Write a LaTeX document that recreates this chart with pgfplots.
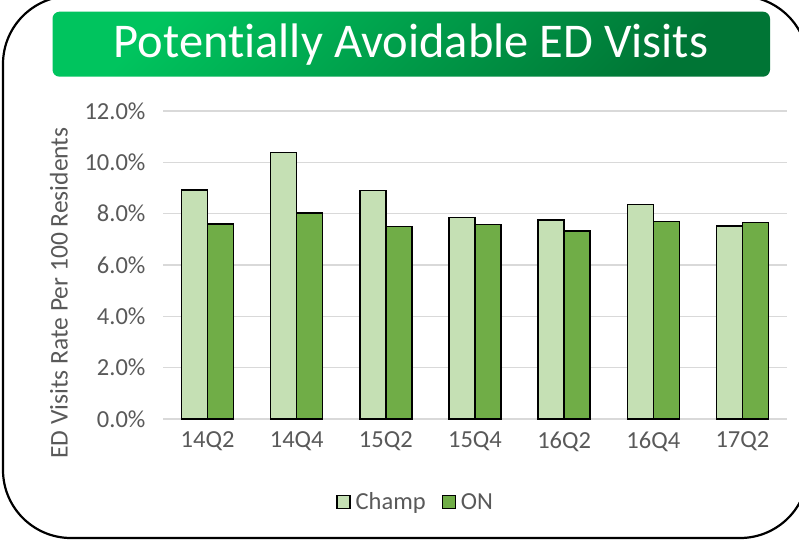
\documentclass[border=0pt]{standalone}
\usepackage{pgfplots}
\pgfplotsset{compat=1.18}
\usepackage{fontspec}
\setmainfont{Carlito}[Ligatures=NoCommon]
\definecolor{champ}{HTML}{C5E0B4}
\definecolor{on}{HTML}{70AD47}
\definecolor{txt}{HTML}{595959}
\definecolor{gridc}{HTML}{D9D9D9}
\definecolor{tA}{HTML}{00C45E}
\definecolor{tB}{HTML}{007535}
\pgfplotstableread{
x champ on
0 8.92 7.60
1 10.39 8.03
2 8.91 7.51
3 7.86 7.57
4 7.75 7.32
5 8.36 7.70
6 7.52 7.65
}\datatable
\begin{document}
\begin{tikzpicture}[x=1pt,y=1pt]
\useasboundingbox (0,0) rectangle (799,542);
\begin{scope}
\clip (0,0) rectangle (799,542);
\draw[line width=2.2pt, rounded corners=68pt] (3,4) rectangle (808,546);
\end{scope}
\shade[rounded corners=7pt, top color=tA, bottom color=tB, shading angle=45] (52.5,465.3) rectangle (770,530.3);
\node[text=white, font=\fontsize{48.5}{52}\selectfont] at (411,497.8) {Potentially Avoidable ED Visits};
\begin{axis}[
  at={(163pt,123pt)}, anchor=south west,
  scale only axis, width=624pt, height=308pt,
  ymin=0, ymax=12, xmin=-0.5, xmax=6.5,
  ybar=0pt, bar width=26pt,
  axis line style={draw=none},
  ymajorgrids, grid style={gridc, line width=1.5pt},
  major tick length=0pt,
  xtick={0,...,6}, xticklabels={14Q2,14Q4,15Q2,15Q4,16Q2,16Q4,17Q2},
  ytick={0,2,...,12},
  yticklabel={\pgfmathprintnumber[fixed,fixed zerofill,precision=1]{\tick}\%},
  /pgf/number format/assume math mode=true,
  tick label style={text=txt, font=\fontsize{24.5}{28}\selectfont},
  yticklabel style={xshift=-14pt},
  xticklabel style={yshift=-9pt},
  ylabel={ED Visits Rate Per 100 Residents},
  ylabel style={at={(axis description cs:-0.167,0.409)}, anchor=center, text=txt, font=\fontsize{25.5}{29}\selectfont},
  legend style={at={(axis description cs:0.405,-0.269)}, anchor=center, draw=none, fill=none,
    legend columns=-1, font=\fontsize{24.5}{28}\selectfont, text=txt,
    /tikz/every even column/.append style={column sep=14pt},
    /tikz/every odd column/.append style={column sep=3pt}},
]
\addplot[fill=champ, draw=black, line width=1.3pt,
  legend image code/.code={\draw[fill=champ, draw=black, line width=1.2pt] (0pt,-6.5pt) rectangle (13pt,6.5pt);}]
  table[x=x, y=champ] {\datatable};
\addlegendentry{Champ}
\addplot[fill=on, draw=black, line width=1.3pt,
  legend image code/.code={\draw[fill=on, draw=black, line width=1.2pt] (0pt,-6.5pt) rectangle (13pt,6.5pt);}]
  table[x=x, y=on] {\datatable};
\addlegendentry{ON}
\end{axis}
\end{tikzpicture}
\end{document}
